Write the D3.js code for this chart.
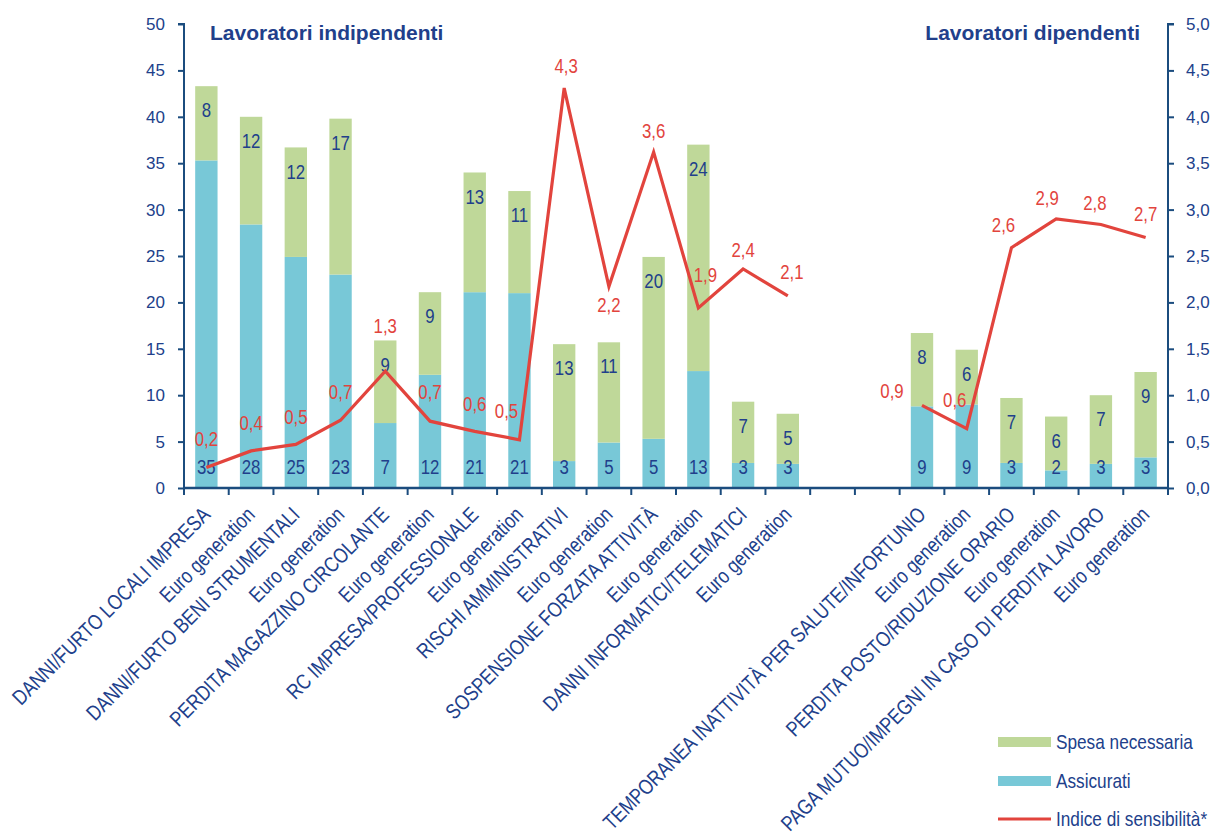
<!DOCTYPE html>
<html>
<head>
<meta charset="utf-8">
<script src="https://cdn.jsdelivr.net/npm/d3@7"></script>
<style>
  html, body { margin: 0; padding: 0; background: #ffffff; }
  svg { display: block; }
  text { font-family: "Liberation Sans", Arial, sans-serif; }
</style>
</head>
<body>
<svg id="chart" width="1212" height="835"></svg>
<script>
// Categories (empty strings are spacer slots between the two groups)
const categories = [
  "DANNI/FURTO LOCALI IMPRESA", "Euro generation",
  "DANNI/FURTO BENI STRUMENTALI", "Euro generation",
  "PERDITA MAGAZZINO CIRCOLANTE", "Euro generation",
  "RC IMPRESA/PROFESSIONALE", "Euro generation",
  "RISCHI AMMINISTRATIVI", "Euro generation",
  "SOSPENSIONE FORZATA ATTIVITÀ", "Euro generation",
  "DANNI INFORMATICI/TELEMATICI", "Euro generation",
  "", "",
  "TEMPORANEA INATTIVITÀ PER SALUTE/INFORTUNIO", "Euro generation",
  "PERDITA POSTO/RIDUZIONE ORARIO", "Euro generation",
  "PAGA MUTUO/IMPEGNI IN CASO DI PERDITA LAVORO", "Euro generation"
];

// Share of insured (left axis, %)
const assicurati = [35.3, 28.4, 24.9, 23.0, 7.0, 12.2, 21.1, 21.0, 2.9, 4.9, 5.3, 12.6, 2.7, 2.6,
                    null, null, 8.8, 9.0, 2.7, 1.9, 2.6, 3.3];
// Share with necessary expense (stacked on top, left axis, %)
const spesa = [8.0, 11.6, 11.8, 16.8, 8.9, 8.9, 12.9, 11.0, 12.6, 10.8, 19.6, 24.4, 6.6, 5.4,
               null, null, 7.9, 5.9, 7.0, 5.8, 7.4, 9.2];
// Sensitivity index (right axis)
const indice = [0.22, 0.40, 0.47, 0.73, 1.26, 0.72, 0.61, 0.52, 4.31, 2.17, 3.62, 1.94, 2.36, 2.07,
                null, null, 0.89, 0.64, 2.59, 2.90, 2.84, 2.70];

const leftTicks = [0, 5, 10, 15, 20, 25, 30, 35, 40, 45, 50];
const rightTicks = [0, 0.5, 1, 1.5, 2, 2.5, 3, 3.5, 4, 4.5, 5];

const groupTitles = ["Lavoratori indipendenti", "Lavoratori dipendenti"];
const legendLabels = ["Spesa necessaria", "Assicurati", "Indice di sensibilità*"];

// Hand-placed offsets of the index labels around each line point [dx, dy]
const indexLabelNudge = [
  [0, -29], [0, -28], [0, -28], [0, -28], [0, -45], [0, -29], [0, -28], [-13, -29],
  [2, -22], [0, 18], [0, -21], [7, -33], [0, -19], [4, -24],
  null, null, [-30, -15], [-12, -29], [-8, -23], [-9, -21], [-6, -22], [0, -24]
];

const COL_BLUE = "#78C8D7";
const COL_GREEN = "#BFD899";
const COL_RED = "#E2443D";
const COL_TEXT = "#213F8B";
const COL_AXIS = "#1B4C7E";
const NARROW = 0.82;   // horizontal squeeze for the condensed label face

const svg = d3.select("#chart");
const X0 = 184, X1 = 1168, Y0 = 488, Y1 = 24;

const idx = d3.range(categories.length);
const x = d3.scaleBand().domain(idx).range([X0, X1]).paddingInner(0.5).paddingOuter(0.25);
const yL = d3.scaleLinear().domain([0, 50]).range([Y0, Y1]);
const yR = d3.scaleLinear().domain([0, 5]).range([Y0, Y1]);
const step = x.step();
const cx = i => x(i) + x.bandwidth() / 2;

// condensed text placed at (px, py)
function narrowText(g, px, py, extra) {
  return g.append("text")
    .attr("transform", `translate(${px},${py})${extra || ""} scale(${NARROW},1)`);
}

// Stacked bars
const bars = svg.append("g");
idx.forEach(i => {
  if (assicurati[i] == null) return;
  const a = assicurati[i], s = spesa[i];
  bars.append("rect")
    .attr("x", x(i)).attr("width", x.bandwidth())
    .attr("y", yL(a)).attr("height", yL(0) - yL(a))
    .attr("fill", COL_BLUE);
  bars.append("rect")
    .attr("x", x(i)).attr("width", x.bandwidth())
    .attr("y", yL(a + s)).attr("height", yL(a) - yL(a + s))
    .attr("fill", COL_GREEN);
});

// Left axis
const axL = svg.append("g").attr("transform", `translate(${X0},0)`)
  .call(d3.axisLeft(yL).tickValues(leftTicks).tickSize(6).tickPadding(13).tickFormat(d3.format("d")));
// Right axis
const fmtR = d => d3.format(".1f")(d).replace(".", ",");
const axR = svg.append("g").attr("transform", `translate(${X1},0)`)
  .call(d3.axisRight(yR).tickValues(rightTicks).tickSize(6).tickPadding(12).tickFormat(fmtR));
[axL, axR].forEach(g => {
  g.attr("font-family", null).attr("font-size", null);
  g.select(".domain").attr("stroke", COL_AXIS).attr("stroke-width", 2);
  g.selectAll(".tick line").attr("stroke", COL_AXIS).attr("stroke-width", 2);
  g.selectAll(".tick text").attr("fill", COL_TEXT).attr("font-size", 17);
});
axL.select(".domain").attr("d", `M-6,${Y1}H0V${Y0}`);
axR.select(".domain").attr("d", `M6,${Y1}H0V${Y0}`);

// Bottom axis with ticks on slot boundaries
const boundaries = d3.range(categories.length + 1).map(k => X0 + k * step);
const axB = svg.append("g");
axB.append("line").attr("x1", X0).attr("x2", X1).attr("y1", Y0).attr("y2", Y0)
  .attr("stroke", COL_AXIS).attr("stroke-width", 2.5);
axB.selectAll("line.tk").data(boundaries).join("line").attr("class", "tk")
  .attr("x1", d => d).attr("x2", d => d).attr("y1", Y0).attr("y2", Y0 + 7)
  .attr("stroke", COL_AXIS).attr("stroke-width", 2);

// Category labels, rotated
const catG = svg.append("g").attr("font-size", 21.3).attr("fill", COL_TEXT).attr("text-anchor", "end");
idx.filter(i => categories[i] !== "").forEach(i => {
  narrowText(catG, cx(i) + 5, Y0 + 28, " rotate(-45)").text(categories[i]);
});

// Bar value labels
const vl = svg.append("g").attr("font-size", 20.5)
  .attr("fill", COL_TEXT).attr("text-anchor", "middle");
idx.forEach(i => {
  if (assicurati[i] == null) return;
  narrowText(vl, cx(i), Y0 - 21).attr("dy", "0.35em").text(d3.format(".0f")(assicurati[i]));
  narrowText(vl, cx(i), yL(assicurati[i] + spesa[i]) + 24).attr("dy", "0.35em")
    .text(d3.format(".0f")(spesa[i]));
});

// Sensitivity index line
const line = d3.line().defined(d => d != null)
  .x((d, i) => cx(i)).y(d => yR(d));
svg.append("path").datum(indice)
  .attr("d", line).attr("fill", "none")
  .attr("stroke", COL_RED).attr("stroke-width", 3.2).attr("stroke-linejoin", "miter");

const il = svg.append("g").attr("font-size", 20.5)
  .attr("fill", COL_RED).attr("text-anchor", "middle");
idx.forEach(i => {
  if (indice[i] == null) return;
  const [dx, dy] = indexLabelNudge[i];
  narrowText(il, cx(i) + dx, yR(indice[i]) + dy).attr("dy", "0.35em").text(fmtR(indice[i]));
});

// Group titles
svg.append("text").attr("x", 210).attr("y", 40)
  .attr("font-size", 21).attr("font-weight", "bold").attr("fill", COL_TEXT)
  .text(groupTitles[0]);
svg.append("text").attr("x", 1140).attr("y", 40)
  .attr("text-anchor", "end")
  .attr("font-size", 21).attr("font-weight", "bold").attr("fill", COL_TEXT)
  .text(groupTitles[1]);

// Legend
const lg = svg.append("g").attr("font-size", 21).attr("fill", COL_TEXT);
const legendRows = [
  { label: legendLabels[0], type: "rect", color: COL_GREEN, y: 742 },
  { label: legendLabels[1], type: "rect", color: COL_BLUE, y: 781 },
  { label: legendLabels[2], type: "line", color: COL_RED, y: 819 }
];
legendRows.forEach(r => {
  if (r.type === "rect") {
    lg.append("rect").attr("x", 998).attr("y", r.y - 5).attr("width", 53).attr("height", 10)
      .attr("fill", r.color);
  } else {
    lg.append("line").attr("x1", 998).attr("x2", 1051).attr("y1", r.y).attr("y2", r.y)
      .attr("stroke", r.color).attr("stroke-width", 3);
  }
  narrowText(lg, 1056, r.y).attr("dy", "0.35em").text(r.label);
});
</script>
</body>
</html>
